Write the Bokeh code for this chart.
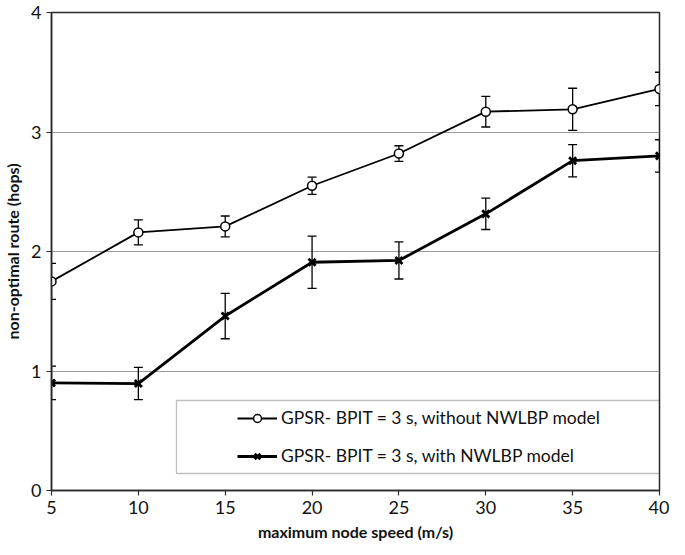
from bokeh.plotting import figure
from bokeh.models import Legend, LegendItem, FixedTicker, BoxAnnotation, Range1d
from bokeh.embed import file_html
from bokeh.resources import INLINE

speed = [5, 10, 15, 20, 25, 30, 35, 40]
without_nwlbp = [1.75, 2.16, 2.21, 2.55, 2.82, 3.17, 3.19, 3.36]
without_err = [0.15, 0.105, 0.087, 0.072, 0.065, 0.128, 0.176, 0.14]
with_nwlbp = [0.90, 0.895, 1.46, 1.91, 1.925, 2.315, 2.76, 2.80]
with_err = [0.14, 0.135, 0.19, 0.218, 0.155, 0.131, 0.135, 0.135]
x_ticks = [5, 10, 15, 20, 25, 30, 35, 40]
y_ticks = [0, 1, 2, 3, 4]
label1 = "GPSR- BPIT = 3 s, without NWLBP model"
label2 = "GPSR- BPIT = 3 s, with NWLBP model"

FONT = "Lato"
DARK = "#2b2b2b"

p = figure(width=669, height=547, output_backend="svg", toolbar_location=None,
           x_range=Range1d(5, 40), y_range=Range1d(0, 4),
           min_border_left=44, min_border_right=10, min_border_top=12, min_border_bottom=57)

p.outline_line_color = DARK
p.outline_line_width = 1.5
p.xgrid.grid_line_color = None
p.ygrid.grid_line_color = "#9a9a9a"
p.ygrid.grid_line_width = 1

for ax in (p.xaxis[0], p.yaxis[0]):
    ax.axis_line_color = DARK
    ax.axis_line_width = 1.5
    ax.major_tick_line_color = DARK
    ax.major_tick_line_width = 1.2
    ax.major_tick_out = 5
    ax.major_tick_in = 0
    ax.minor_tick_line_color = None
    ax.major_label_text_font = FONT
    ax.major_label_text_font_size = "18px"
    ax.major_label_text_color = "#111111"
    ax.axis_label_text_font = FONT
    ax.axis_label_text_font_size = "16px"
    ax.axis_label_text_font_style = "bold"
    ax.axis_label_text_color = "#111111"

p.xaxis.ticker = FixedTicker(ticks=x_ticks)
p.yaxis.ticker = FixedTicker(ticks=y_ticks)
p.xaxis.axis_label = "maximum node speed (m/s)"
p.yaxis.axis_label = "non-optimal route (hops)"
p.xaxis.major_label_standoff = 5
p.xaxis.axis_label_standoff = 5
p.yaxis.major_label_standoff = 5
p.yaxis.axis_label_standoff = 6

# error bars
lo1 = [v - e for v, e in zip(without_nwlbp, without_err)]
hi1 = [v + e for v, e in zip(without_nwlbp, without_err)]
lo2 = [v - e for v, e in zip(with_nwlbp, with_err)]
hi2 = [v + e for v, e in zip(with_nwlbp, with_err)]
for lo, hi in ((lo1, hi1), (lo2, hi2)):
    p.segment(x0=speed, y0=lo, x1=speed, y1=hi, line_color="black", line_width=1.3)
    p.scatter(speed, lo, marker="dash", size=9, line_color="black", line_width=1.3)
    p.scatter(speed, hi, marker="dash", size=9, line_color="black", line_width=1.3)

l1 = p.line(speed, without_nwlbp, line_color="black", line_width=1.8)
m1 = p.scatter(speed, without_nwlbp, marker="circle", size=9, fill_color="white",
               line_color="black", line_width=1.5)
l2 = p.line(speed, with_nwlbp, line_color="black", line_width=2.8)
m2 = p.scatter(speed, with_nwlbp, marker="x", size=10, line_color="black", line_width=2.8)

legend = Legend(items=[LegendItem(label=label1, renderers=[l1, m1]),
                       LegendItem(label=label2, renderers=[l2, m2])],
                location=(186, 24), margin=0, padding=0, spacing=17,
                label_height=20, glyph_height=20, glyph_width=40, label_standoff=4,
                label_text_font=FONT, label_text_font_size="17.5px", label_text_color="#111111",
                border_line_alpha=0, background_fill_alpha=0)
p.add_layout(legend)

frame_box = BoxAnnotation(left=125, right=609, bottom=17, top=90,
                          left_units="screen", right_units="screen",
                          bottom_units="screen", top_units="screen",
                          fill_alpha=0, line_color=DARK, line_width=1.3)
p.add_layout(frame_box)

open("out.html", "w").write(file_html(p, INLINE))
